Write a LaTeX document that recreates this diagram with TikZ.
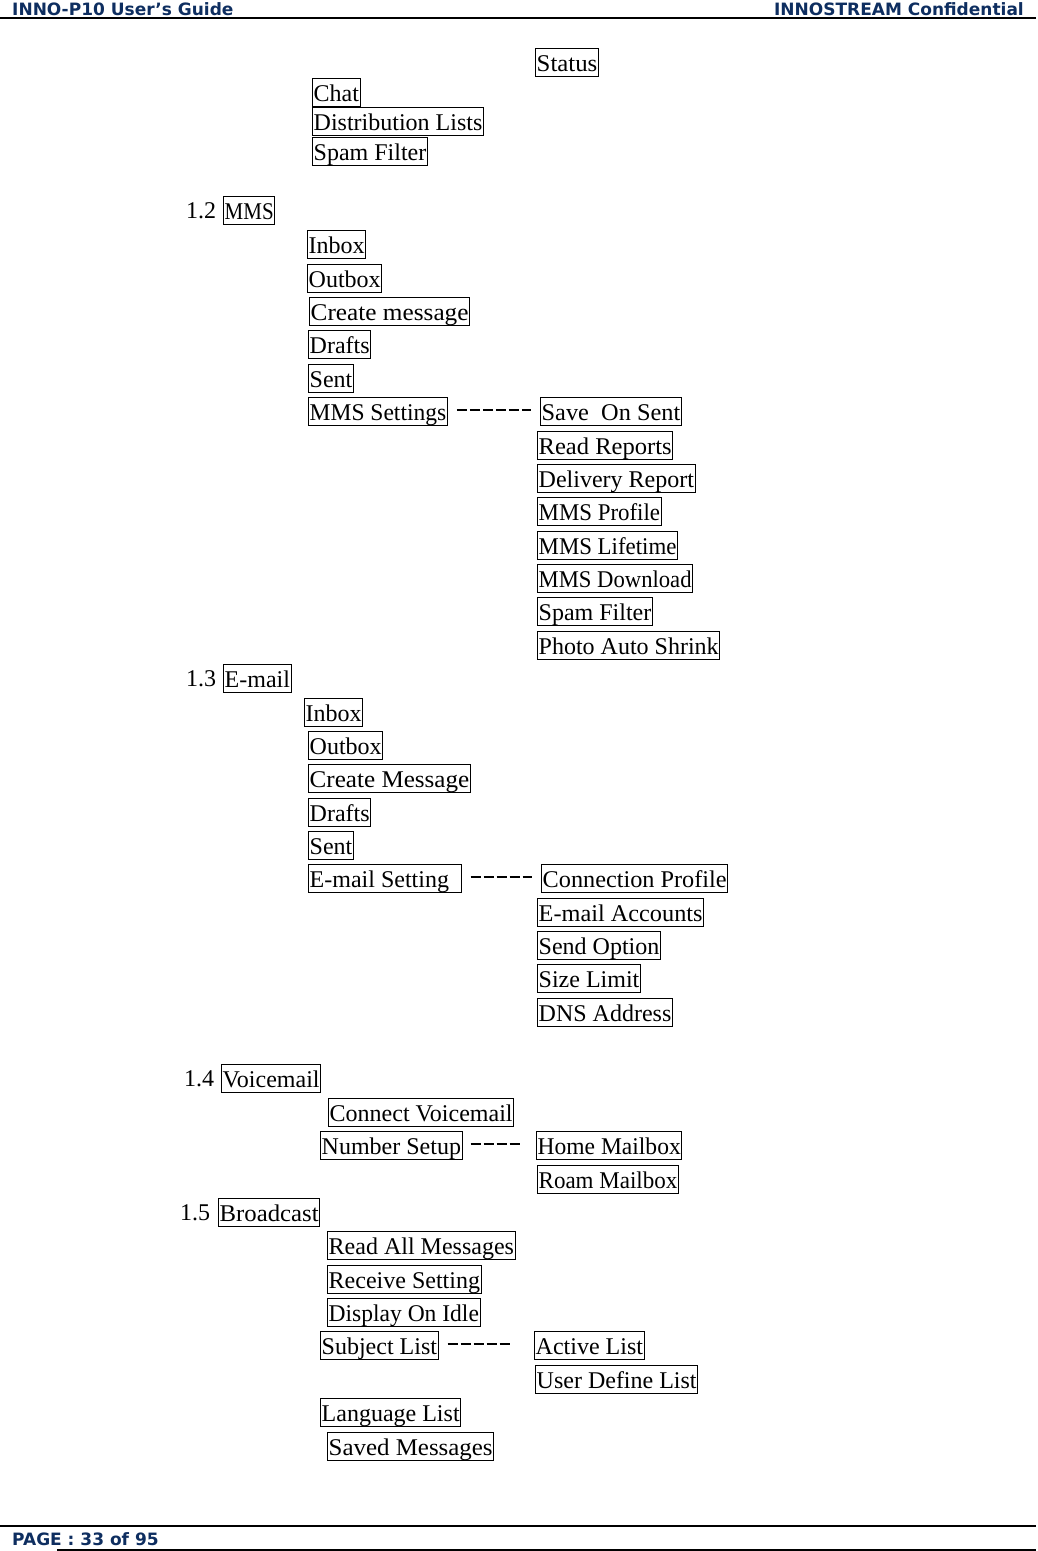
\documentclass[tikz,border=0pt]{standalone}
\usepackage{graphicx}
\usepackage{fontspec}
\setmainfont{Liberation Serif}
\newfontfamily\hdrfamily{DejaVu Sans}
\definecolor{navy}{RGB}{14,46,96}
\newcommand{\bxfont}{\fontsize{24}{28}\selectfont}
\newcommand{\hdrfont}{\hdrfamily\bfseries\fontsize{17}{20}\selectfont}
\newcommand{\hsq}[2]{\scalebox{#1}[1]{#2}}
\tikzset{
  bx/.style={draw, line width=1pt, inner xsep=1.2pt, inner ysep=0.5pt,
    text height=22pt, text depth=5pt, anchor=north west, font=\bxfont},
  num/.style={inner sep=0pt, anchor=base west, font=\bxfont},
  dsh/.style={line width=1.6pt, dash pattern=on 10pt off 3pt},
  hdr/.style={inner sep=0pt, font=\hdrfont, text=navy},
  rulethick/.style={line width=1.4pt},
  rulethin/.style={line width=1.1pt}
}
\begin{document}
\begin{tikzpicture}[x=1pt,y=-1pt]
\useasboundingbox (0,0) rectangle (1038,1551);
\fill[white] (0,0) rectangle (1038,1551);

% header / footer
\node[hdr, anchor=base west] (hl) at (12,15) {INNO-P10 User’s Guide};
\node[hdr, anchor=base east] (hr) at (1024,15) {INNOSTREAM Confidential};
\coordinate (h1) at (0,18);
\coordinate (h2) at (1036,18);
\draw[rulethick] (h1) -- (h2);
\coordinate (f1) at (0,1526);
\coordinate (f2) at (1036,1526);
\draw[rulethin] (f1) -- (f2);
\node[hdr, anchor=base west] (pg) at (12,1545) {PAGE : 33 of 95};
\coordinate (f3) at (57,1550);
\coordinate (f4) at (1036,1550);
\draw[rulethin] (f3) -- (f4);

% top part
\node[bx] (status) at (535,48) {\hsq{1.034}{Status}};
\node[bx] (chat) at (312,78) {Chat};
\node[bx] (dist) at (312,107) {Distribution Lists};
\node[bx] (spamA) at (312,137) {Spam Filter};

% 1.2 MMS
\node[num] (n12) at (186,218.5) {1.2};
\node[bx] (mms) at (223,196) {\hsq{0.875}{MMS}};
\node[bx] (mInbox) at (307,230) {Inbox};
\node[bx] (mOutbox) at (307,264) {Outbox};
\node[bx] (mCreate) at (309,297) {\hsq{1.053}{Create message}};
\node[bx] (mDrafts) at (308,330) {Drafts};
\node[bx] (mSent) at (308,364) {Sent};
\node[bx] (mSet) at (308,397) {\hsq{0.98}{MMS Settings}};
\node[bx] (mSave) at (540,397) {\hsq{1.014}{Save\ \ On Sent}};
\node[bx] (mRead) at (537,431) {\hsq{1.023}{Read Reports}};
\node[bx] (mDeliv) at (537,464) {Delivery Report};
\node[bx] (mProf) at (537,497) {\hsq{0.953}{MMS Profile}};
\node[bx] (mLife) at (537,531) {\hsq{0.952}{MMS Lifetime}};
\node[bx] (mDown) at (537,564) {\hsq{0.944}{MMS Download}};
\node[bx] (mSpam) at (537,597) {Spam Filter};
\node[bx] (mPhoto) at (537,631) {Photo Auto Shrink};
\draw[dsh] ([shift={(9,13)}]mSet.north east) -- ([shift={(-9,13)}]mSave.north west);

% 1.3 E-mail
\node[num] (n13) at (186,686.5) {1.3};
\node[bx] (email) at (223,664) {E-mail};
\node[bx] (eInbox) at (304,698) {Inbox};
\node[bx] (eOutbox) at (308,731) {Outbox};
\node[bx] (eCreate) at (308,764) {\hsq{1.046}{Create Message}};
\node[bx] (eDrafts) at (308,798) {Drafts};
\node[bx] (eSent) at (308,831) {Sent};
\node[bx] (eSet) at (308,864) {E-mail Setting\kern11pt};
\node[bx] (eConn) at (541,864) {\hsq{1.011}{Connection Profile}};
\node[bx] (eAcc) at (537,898) {\hsq{1.012}{E-mail Accounts}};
\node[bx] (eSend) at (537,931) {Send Option};
\node[bx] (eSize) at (537,964) {Size Limit};
\node[bx] (eDns) at (537,998) {DNS Address};
\draw[dsh] ([shift={(9,13)}]eSet.north east) -- ([shift={(-9,13)}]eConn.north west);

% 1.4 Voicemail
\node[num] (n14) at (184,1086.5) {1.4};
\node[bx] (voice) at (221,1064) {Voicemail};
\node[bx] (vConn) at (328,1098) {Connect Voicemail};
\node[bx] (vNum) at (320,1131) {Number Setup};
\node[bx] (vHome) at (536,1131) {\hsq{0.98}{Home Mailbox}};
\node[bx] (vRoam) at (537,1165) {\hsq{0.958}{Roam Mailbox}};
\draw[dsh] ([shift={(8,13)}]vNum.north east) -- ([shift={(-16,13)}]vHome.north west);

% 1.5 Broadcast
\node[num] (n15) at (180,1220.5) {1.5};
\node[bx] (broad) at (218,1198) {\hsq{1.031}{Broadcast}};
\node[bx] (bRead) at (327,1231) {Read All Messages};
\node[bx] (bRecv) at (327,1265) {Receive Setting};
\node[bx] (bDisp) at (327,1298) {\hsq{0.98}{Display On Idle}};
\node[bx] (bSubj) at (320,1331) {Subject List};
\node[bx] (bAct) at (534,1331) {Active List};
\node[bx] (bUser) at (535,1365) {User Define List};
\node[bx] (bLang) at (320,1398) {Language List};
\node[bx] (bSaved) at (327,1432) {\hsq{1.038}{Saved Messages}};
\draw[dsh] ([shift={(9,13)}]bSubj.north east) -- ([shift={(-23,13)}]bAct.north west);
\end{tikzpicture}
\end{document}
